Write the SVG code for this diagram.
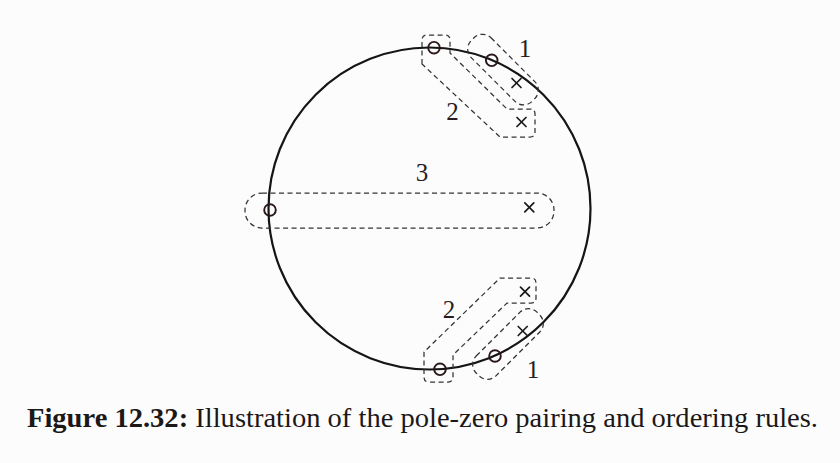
<svg xmlns="http://www.w3.org/2000/svg" width="840" height="463" viewBox="0 0 840 463">
  <style>
    .bg { fill: #fcfcfc; }
    .unit { fill: none; stroke: #151515; stroke-width: 2.2; }
    .zero { fill: none; stroke: #2a1818; stroke-width: 1.9; }
    .pole { stroke: #1a1a1a; stroke-width: 1.7; stroke-linecap: round; }
    .enc { fill: none; stroke: #333; stroke-width: 1.25; stroke-dasharray: 5 3.5; }
    .lbl { font-family: "Liberation Serif", "Times New Roman", serif; font-size: 25px; fill: #2a1c1c; text-anchor: middle; }
    .cap { font-family: "Liberation Serif", "Times New Roman", serif; font-size: 28px; fill: #1c1818; }
  </style>
  <defs>
    <g id="x"><line class="pole" x1="-4.5" y1="-4.5" x2="4.5" y2="4.5"/><line class="pole" x1="-4.5" y1="4.5" x2="4.5" y2="-4.5"/></g>
  </defs>
  <rect class="bg" x="0" y="0" width="840" height="463"/>

  <g id="unit-circle">
    <circle class="unit" cx="429.5" cy="208.5" r="161"/>
  </g>

  <g id="connectors">
    <!-- pair 1 (top) -->
    <rect class="enc" x="460" y="55.6" width="86" height="28" rx="12" transform="rotate(45 503 69.6)"/>
    <!-- pair 2 (top) -->
    <path class="enc" d="M 422 64 L 422 40 Q 422 35 427 35 L 445 35 Q 450 35 450 40 L 450 53 L 507 109 L 530 109 Q 535 109 535 114 L 535 132 Q 535 137 530 137 L 500 137 Z"/>
    <!-- pair 3 -->
    <rect class="enc" x="245" y="193" width="309" height="35" rx="17"/>
    <!-- pair 2 (bottom) -->
    <path class="enc" d="M 424 352 L 424 377 Q 424 382 429 382 L 448 382 Q 453 382 453 377 L 453 355 L 507 303 L 531 303 Q 536 303 536 298 L 536 283 Q 536 278 531 278 L 500 278 Z"/>
    <!-- pair 1 (bottom) -->
    <rect class="enc" x="465" y="330" width="86" height="28" rx="12" transform="rotate(-45 508 344)"/>
  </g>

  <g id="zero-top-1"><circle class="zero" cx="491.7" cy="60.3" r="5.8"/></g>
  <g id="pole-top-1"><use href="#x" x="516.5" y="83"/></g>
  <g id="zero-top-2"><circle class="zero" cx="434" cy="47.7" r="5.8"/></g>
  <g id="pole-top-2"><use href="#x" x="521.5" y="122"/></g>
  <g id="zero-3"><circle class="zero" cx="270" cy="210" r="5.8"/></g>
  <g id="pole-3"><use href="#x" x="529.3" y="207.3"/></g>
  <g id="zero-bot-2"><circle class="zero" cx="440" cy="369.3" r="5.8"/></g>
  <g id="pole-bot-2"><use href="#x" x="525" y="291.7"/></g>
  <g id="zero-bot-1"><circle class="zero" cx="495" cy="356" r="5.8"/></g>
  <g id="pole-bot-1"><use href="#x" x="522.7" y="331"/></g>

  <g id="labels">
    <text class="lbl" x="525" y="56.5">1</text>
    <text class="lbl" x="452.5" y="120">2</text>
    <text class="lbl" x="422" y="180.7">3</text>
    <text class="lbl" x="449" y="318">2</text>
    <text class="lbl" x="533" y="378">1</text>
  </g>

  <g id="caption">
    <text class="cap" x="27" y="426.5" textLength="791" lengthAdjust="spacingAndGlyphs"><tspan font-weight="bold">Figure 12.32:</tspan> Illustration of the pole-zero pairing and ordering rules.</text>
  </g>
</svg>
